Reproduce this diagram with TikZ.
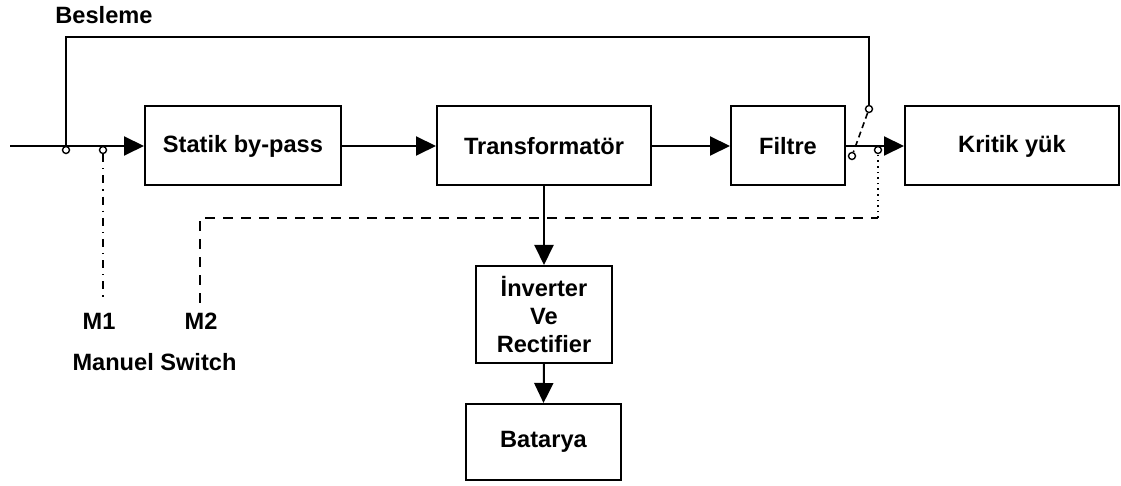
\documentclass[tikz,border=0pt]{standalone}
\usepackage{fontspec}
\setmainfont{Liberation Sans}
\usetikzlibrary{arrows.meta}
\begin{document}
\begin{tikzpicture}[x=0.5pt, y=-0.5pt,
  every node/.style={font=\fontsize{11.8}{14}\selectfont\bfseries},
  block/.style={draw, line width=1pt, inner sep=0pt, align=center},
  arr/.style={-{Triangle[length=10pt, width=9.5pt]}, line width=1pt},
  wire/.style={line width=1pt},
  contact/.style={draw, circle, line width=0.7pt, inner sep=0pt, minimum size=3.5pt, fill=white}]
\useasboundingbox (0,0) rectangle (1121,486);
% main chain
\node[block, minimum width=98pt, minimum height=39.5pt] (bypass) at (243,146) {Statik by-pass};
\node[block, minimum width=107pt, minimum height=39.5pt] (trafo) at (544,146) {Transformatör};
\node[block, minimum width=57pt, minimum height=39.5pt] (filtre) at (788,146) {Filtre};
\node[block, minimum width=107pt, minimum height=39.5pt] (yuk) at (1012,146) {Kritik yük};
\node[block, minimum width=68pt, minimum height=48.5pt] (inv) at (544,314.5) {İnverter\\Ve\\Rectifier};
\node[block, minimum width=77.5pt, minimum height=38pt] (bat) at (543.5,442) {Batarya};
% labels
\node (besleme) at (104,15) {Besleme};
\node (m1) at (99,321) {M1};
\node (m2) at (201,321) {M2};
\node (manuel) at (154.5,362) {Manuel Switch};
% contacts
\coordinate (in) at (10,146);
\coordinate (tap) at (66,146);
\coordinate (top1) at (66,37);
\coordinate (top2) at (869,37);
\node[contact] (c1) at (66,150) {};
\node[contact] (c2) at (103,150) {};
\node[contact] (sw1) at (869,109) {};
\node[contact] (sw2) at (852,156) {};
\node[contact] (c3) at (878,150) {};
\coordinate (m1end) at (103,302);
\coordinate (m2top) at (200,218);
\coordinate (m2end) at (200,303);
\coordinate (dashend) at (878,218);
% connectors
\draw[arr] (in) -- (bypass.west);
\draw[wire] (tap) -- (top1) -- (top2) -- (sw1.north);
\draw[arr] (bypass.east) -- (trafo.west);
\draw[arr] (trafo.east) -- (filtre.west);
\draw[arr] (filtre.east) -- (yuk.west);
\draw[arr] (trafo.south) -- (inv.north);
\draw[arr] (inv.south) -- (bat.north);
\draw[line width=0.8pt, dash pattern=on 3pt off 2pt] (sw1) -- (sw2);
% manual switch links
\draw[line width=0.8pt, dash pattern=on 4pt off 3pt on 0.6pt off 3pt] (c2.south) -- (m1end);
\draw[line width=0.8pt, dash pattern=on 5pt off 4pt] (m2end) -- (m2top) -- (dashend);
\draw[line width=0.8pt, dotted] (dashend) -- (c3.south);
\end{tikzpicture}
\end{document}
